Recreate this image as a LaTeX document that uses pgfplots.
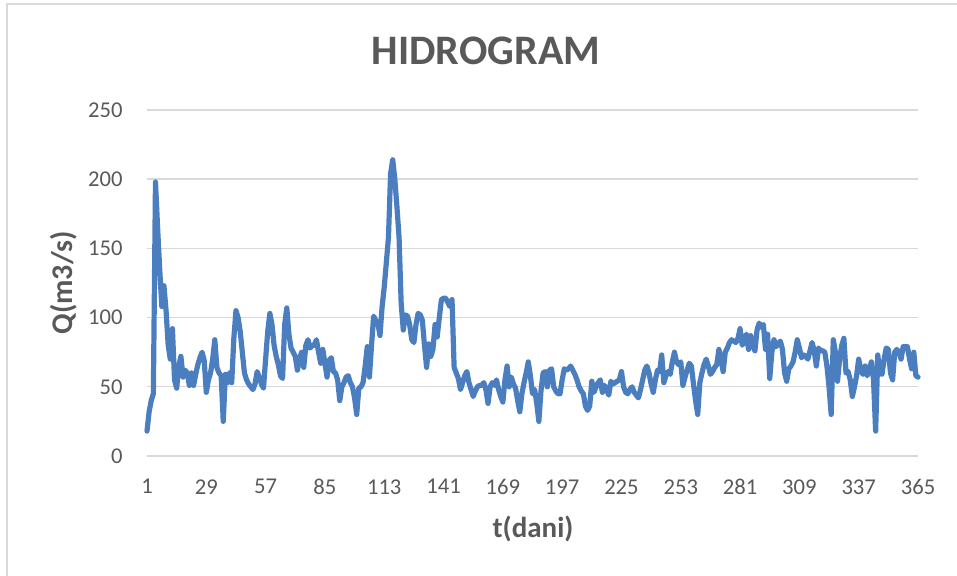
\documentclass[border=0pt]{standalone}
\usepackage{fontspec}
\setmainfont{Carlito}
\usepackage{pgfplots}
\usepackage{pgfplotstable}
\pgfplotsset{compat=1.18}
\definecolor{linecol}{HTML}{4A7EBF}
\definecolor{gridcol}{HTML}{D9D9D9}
\definecolor{txtcol}{HTML}{595959}
\pgfplotstableread{
Q
18
32
40
45
198
165
135
108
123
105
80
70
92
55
49
65
72
57
62
60
51
60
51
59
66
71
75
69
46
55
60
70
84
64
60
58
25
59
53
60
53
85
105
100
90
75
60
55
52
50
48
52
61
57
52
49
70
90
103
95
80
72
66
58
56
95
107
88
78
75
72
62
70
75
64
80
84
78
80
80
84
75
67
77
67
57
69
71
61
60
55
40
50
53
57
58
53
50
42
30
49
50
53
65
79
57
80
101
98
96
87
108
122
140
158
204
214
200
180
158
110
91
102
101
95
84
82
95
103
102
98
80
64
81
72
77
95
86
100
113
114
114
111
108
113
64
60
56
48
53
58
61
53
48
43
47
50
51
51
53
48
38
50
53
51
55
48
43
39
55
65
50
57
52
49
40
32
45
53
60
68
58
45
48
38
25
47
60
61
50
62
63
50
47
45
45
55
63
62
63
65
62
59
55
50
47
45
36
33
36
54
46
50
53
55
46
51
48
44
54
52
53
54
55
61
50
46
45
48
50
46
44
42
48
55
62
65
60
52
46
55
62
61
73
53
58
61
59
68
75
68
66
68
51
57
62
67
65
52
40
30
53
60
66
70
65
59
61
64
66
77
70
61
75
78
82
84
83
82
85
92
80
84
88
77
87
80
76
91
96
93
95
77
88
56
75
84
79
81
83
77
60
54
63
65
68
75
84
78
71
73
72
70
76
82
76
65
78
76
76
75
65
50
30
84
75
54
70
80
85
60
61
55
43
50
58
70
62
59
65
58
63
68
55
18
73
60
59
70
78
77
60
55
75
77
75
70
79
79
79
70
63
75
58
57
}\datatable
\begin{document}
\begin{tikzpicture}[x=1pt,y=1pt]
\useasboundingbox (0,0) rectangle (478.5,288);
% chart area border (top and left visible)
\draw[gridcol, line width=0.6pt] (3.5,0) -- (3.5,286) -- (478.5,286);
\begin{axis}[
  at={(73.5pt,60pt)}, anchor=south west,
  scale only axis, width=385.5pt, height=173pt,
  xmin=1, xmax=365, ymin=0, ymax=250,
  xtick={1,29,...,365}, ytick={0,50,...,250},
  axis line style={draw=none},
  major tick length=0pt,
  ymajorgrids, grid style={color=gridcol, line width=0.7pt},
  /pgf/number format/assume math mode=true,
  tick label style={font=\fontsize{11.3}{13}\selectfont, text=txtcol},
  yticklabel style={anchor=east, inner sep=0pt, xshift=-12pt},
  xticklabel style={anchor=north, inner sep=0pt, yshift=-11.5pt},
  clip=false,
]
\addplot[color=linecol, line width=2.6pt, line join=round, line cap=round, mark=none]
  table[x expr=\coordindex+1, y=Q] {\datatable};
\end{axis}
\node[anchor=base, text=txtcol, font=\fontsize{21}{24}\selectfont\bfseries, inner sep=0pt] at (243,255.5) {HIDROGRAM};
\node[anchor=base, text=txtcol, font=\fontsize{14.5}{17}\selectfont\bfseries, inner sep=0pt] at (266.5,19) {t(dani)};
\node[anchor=base, rotate=90, text=txtcol, font=\fontsize{15}{18}\selectfont\bfseries, inner sep=0pt] at (36,146.5) {Q(m3/s)};
\end{tikzpicture}
\end{document}
